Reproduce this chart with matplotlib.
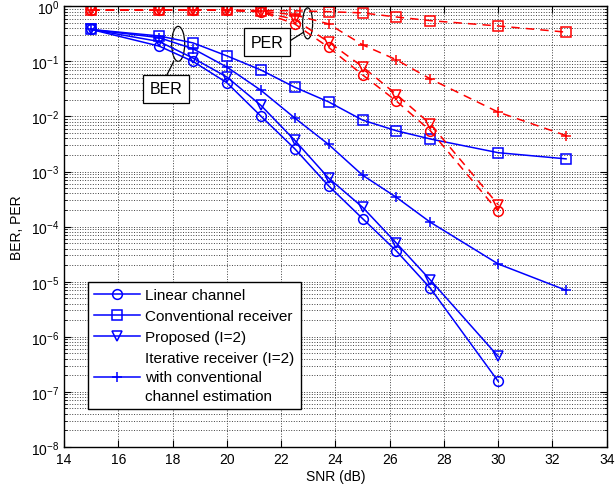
import matplotlib
matplotlib.use("Agg")
import matplotlib.pyplot as plt
from matplotlib.patches import Ellipse

plt.rcParams["font.family"] = ["Liberation Sans", "DejaVu Sans"]
plt.rcParams["mathtext.fontset"] = "custom"
plt.rcParams["mathtext.rm"] = "Liberation Sans"
plt.rcParams["mathtext.it"] = "Liberation Sans:italic"
plt.rcParams["font.size"] = 10

# SNR points (dB)
snr = [15, 17.5, 18.75, 20, 21.25, 22.5, 23.75, 25, 26.25, 27.5, 30, 32.5]

# BER curves (blue, solid)
linear_ber = [0.38, 0.19, 0.10, 0.041, 0.0102, 0.0026, 5.5e-4, 1.4e-4, 3.6e-5, 7.6e-6, 1.55e-7]
conv_ber = [0.38, 0.29, 0.217, 0.126, 0.07, 0.034, 0.0184, 0.0086, 0.0055, 0.0039, 0.0022, 0.0017]
proposed_ber = [0.38, 0.23, 0.115, 0.052, 0.016, 0.0037, 7.6e-4, 2.25e-4, 5e-5, 1.07e-5, 4.4e-7]
iter_ber = [0.38, 0.27, 0.17, 0.079, 0.030, 0.0094, 0.0031, 8.6e-4, 3.4e-4, 1.2e-4, 2.1e-5, 7e-6]

# PER curves (red, dashed)
linear_per = [0.85, 0.85, 0.85, 0.85, 0.8, 0.48, 0.18, 0.057, 0.019, 0.0055, 1.9e-4]
conv_per = [0.85, 0.85, 0.85, 0.85, 0.84, 0.83, 0.8, 0.76, 0.64, 0.55, 0.44, 0.34]
proposed_per = [0.85, 0.85, 0.85, 0.85, 0.8, 0.58, 0.225, 0.08, 0.025, 0.0073, 2.5e-4]
iter_per = [0.85, 0.85, 0.85, 0.85, 0.82, 0.7, 0.48, 0.2, 0.107, 0.048, 0.012, 0.0045]

labels = ["Linear channel", "Conventional receiver", "Proposed (I=2)",
          "Iterative receiver (I=2)\nwith conventional\nchannel estimation"]
markers = ["o", "s", "v", "+"]

fig = plt.figure(figsize=(6.16, 4.89), dpi=100)
ax = fig.add_axes([0.104, 0.084, 0.881, 0.901])

ber_sets = [linear_ber, conv_ber, proposed_ber, iter_ber]
per_sets = [linear_per, conv_per, proposed_per, iter_per]

handles = []
for vals, mk, lab in zip(ber_sets, markers, labels):
    h, = ax.semilogy(snr[:len(vals)], vals, color="blue", lw=1.1, marker=mk,
                     ms=7 if mk != "s" else 6.5, mfc="none", mec="blue",
                     mew=1.1, label=lab)
    handles.append(h)

for vals, mk in zip(per_sets, markers):
    ax.semilogy(snr[:len(vals)], vals, color="red", lw=1.1, marker=mk,
                ms=7 if mk != "s" else 6.5, mfc="none", mec="red", mew=1.1,
                linestyle=(0, (5.5, 4)))

ax.set_xlim(14, 34)
ax.set_ylim(1e-8, 1)
ax.set_xticks(range(14, 35, 2))
ax.set_xlabel("SNR (dB)", labelpad=2)
ax.set_ylabel("BER, PER", labelpad=5)

ax.grid(True, which="both", linestyle=":", color="0.25", lw=0.7)
ax.tick_params(which="both", direction="in", top=True, right=True)
ax.tick_params(which="major", length=5)
ax.tick_params(which="minor", length=2.5)
for s in ax.spines.values():
    s.set_linewidth(1.0)

leg = ax.legend(handles=handles, loc="lower left",
                bbox_to_anchor=(0.044, 0.086), fancybox=False,
                edgecolor="black", framealpha=1, handlelength=3.0,
                borderpad=0.4, labelspacing=0.46, handletextpad=0.35,
                borderaxespad=0, prop={"size": 11})
leg.get_frame().set_linewidth(1.0)
for t in leg.get_texts():
    t.set_linespacing(1.45)

# annotations
ax.add_patch(Ellipse((0.2103, 0.9148), 0.024, 0.0795, transform=ax.transAxes,
                     fill=False, edgecolor="black", lw=0.9))
ax.add_patch(Ellipse((0.4488, 0.9614), 0.0184, 0.0705, transform=ax.transAxes,
                     fill=False, edgecolor="black", lw=0.9))
ax.plot([0.189, 0.202], [0.843, 0.875], color="black", lw=0.9,
        transform=ax.transAxes)
ax.plot([0.414, 0.441], [0.920, 0.941], color="black", lw=0.9,
        transform=ax.transAxes)
box = dict(boxstyle="square,pad=0.42", facecolor="white", edgecolor="black", lw=0.9)
ax.text(0.1875, 0.8125, "BER", transform=ax.transAxes, ha="center",
        va="center", fontsize=11.5, bbox=box)
ax.text(0.3743, 0.919, "PER", transform=ax.transAxes, ha="center",
        va="center", fontsize=11.5, bbox=box)

fig.savefig("out.png", dpi=100)
